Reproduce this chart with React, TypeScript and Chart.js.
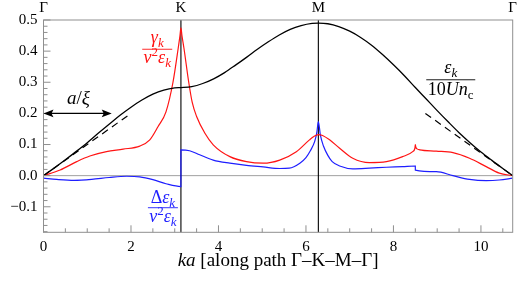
import React, { useEffect, useRef } from 'react';
import { Chart, registerables } from 'chart.js';

Chart.register(...registerables);

// Path Γ–K–M–Γ (positions of symmetry points along ka)
const symmetryX = [0, 3.1416, 6.2832, 10.7261];
const symmetryLabels = ['Γ', 'K', 'M', 'Γ'];
const xTicks = [0, 2, 4, 6, 8, 10];
const yTicks = [-0.1, 0, 0.1, 0.2, 0.3, 0.4, 0.5];

// ε_k / (10 U n_c)
const blackX = [0, 0.25, 0.5, 0.75, 1, 1.25, 1.5, 1.75, 2, 2.25, 2.5, 2.75, 3, 3.1416, 3.39, 3.64, 3.89, 4.14, 4.39, 4.64, 4.89, 5.14, 5.39, 5.64, 5.89, 6.14, 6.2832, 6.5, 6.75, 7, 7.25, 7.5, 7.75, 8, 8.25, 8.5, 8.75, 9, 9.25, 9.5, 9.75, 10, 10.25, 10.5, 10.7261];
const blackY = [0, 0.025, 0.051, 0.078, 0.106, 0.136, 0.165, 0.194, 0.22, 0.243, 0.262, 0.275, 0.282, 0.283, 0.286, 0.296, 0.311, 0.331, 0.355, 0.38, 0.406, 0.43, 0.452, 0.47, 0.482, 0.489, 0.49, 0.488, 0.479, 0.464, 0.444, 0.419, 0.389, 0.356, 0.321, 0.283, 0.246, 0.209, 0.173, 0.138, 0.106, 0.076, 0.049, 0.023, 0];

// linear (sound) asymptotes, dashed
const dashLeftX = [0, 2.0];
const dashLeftY = [0, 0.2];
const dashRightX = [8.73, 10.7261];
const dashRightY = [0.2, 0];

// γ_k / (v² ε_k)
const redX = [0, 0.38, 0.76, 1.06, 1.44, 1.82, 2.2, 2.43, 2.62, 2.8, 2.96, 3.08, 3.12, 3.1416, 3.165, 3.21, 3.32, 3.4, 3.5, 3.69, 3.88, 4.26, 4.64, 5.02, 5.4, 5.78, 6.08, 6.18, 6.2832, 6.38, 6.54, 6.77, 7.07, 7.45, 7.84, 8.21, 8.44, 8.49, 8.5, 8.51, 8.54, 8.6, 8.98, 9.36, 9.74, 10.12, 10.42, 10.7261];
const redY = [0, 0.018, 0.045, 0.063, 0.077, 0.085, 0.095, 0.115, 0.158, 0.205, 0.3, 0.41, 0.45, 0.475, 0.45, 0.41, 0.3, 0.235, 0.19, 0.136, 0.099, 0.061, 0.045, 0.04, 0.05, 0.077, 0.115, 0.126, 0.132, 0.129, 0.115, 0.088, 0.056, 0.042, 0.045, 0.061, 0.077, 0.088, 0.1, 0.092, 0.086, 0.083, 0.079, 0.074, 0.056, 0.029, 0.008, 0];

// Δε_k / (v² ε_k)
const blueX = [0, 0.3, 0.7, 1.1, 1.5, 1.9, 2.2, 2.5, 2.8, 3.1416, 3.1417, 3.34, 3.57, 3.88, 4.26, 4.64, 5.02, 5.4, 5.62, 5.86, 6.0, 6.1, 6.2, 6.25, 6.2832, 6.33, 6.4, 6.5, 6.6, 6.77, 7.07, 7.45, 7.84, 8.21, 8.5, 8.5001, 8.98, 9.36, 9.74, 10.12, 10.42, 10.7261];
const blueY = [-0.008, -0.012, -0.015, -0.012, -0.006, -0.002, -0.004, -0.013, -0.026, -0.035, 0.083, 0.08, 0.067, 0.05, 0.04, 0.033, 0.028, 0.023, 0.024, 0.04, 0.058, 0.08, 0.11, 0.14, 0.174, 0.13, 0.095, 0.065, 0.045, 0.031, 0.022, 0.024, 0.027, 0.029, 0.031, 0.018, 0.013, 0, -0.012, -0.016, -0.014, -0.008];

const SERIF = '"Liberation Serif"';
const RED = 'rgb(255,20,20)';
const BLUE = 'rgb(30,30,255)';
const FRAME = '#8f8f8f';

type Part = { t: string; i?: boolean; sub?: boolean; sup?: boolean };

function fontFor(p: Part, size: number) {
  const s = Math.round(p.sub || p.sup ? size * 0.7 : size);
  return `${p.i ? 'italic ' : ''}${s}px ${SERIF}`;
}
function runWidth(ctx: CanvasRenderingContext2D, parts: Part[], size: number) {
  let w = 0;
  for (const p of parts) {
    ctx.font = fontFor(p, size);
    w += ctx.measureText(p.t).width;
  }
  return w;
}
function drawRun(ctx: CanvasRenderingContext2D, parts: Part[], x: number, y: number, size: number) {
  const w = runWidth(ctx, parts, size);
  let cx = x - w / 2;
  ctx.textAlign = 'left';
  ctx.textBaseline = 'alphabetic';
  for (const p of parts) {
    ctx.font = fontFor(p, size);
    const dy = p.sub ? size * 0.22 : p.sup ? -size * 0.4 : 0;
    ctx.fillText(p.t, cx, y + dy);
    cx += ctx.measureText(p.t).width;
  }
}
function drawFraction(ctx: CanvasRenderingContext2D, cx: number, barY: number, num: Part[], den: Part[], size: number, color: string, barW: number, numOff: number, denOff: number) {
  ctx.fillStyle = color;
  ctx.strokeStyle = color;
  drawRun(ctx, num, cx, barY - numOff, size);
  drawRun(ctx, den, cx, barY + denOff, size);
  ctx.lineWidth = 0.9;
  ctx.beginPath();
  ctx.moveTo(cx - barW / 2, barY);
  ctx.lineTo(cx + barW / 2, barY);
  ctx.stroke();
}

const overlay = {
  id: 'overlay',
  beforeDatasetsDraw(chart: any) {
    const { ctx, chartArea: a, scales } = chart;
    const x = scales.x, y = scales.y;
    ctx.save();
    const y0 = y.getPixelForValue(0);
    ctx.strokeStyle = '#a0a0a0';
    ctx.lineWidth = 1;
    ctx.beginPath();
    ctx.moveTo(a.left, y0);
    ctx.lineTo(a.right, y0);
    ctx.stroke();
    ctx.strokeStyle = '#000';
    ctx.lineWidth = 1.1;
    for (const v of [symmetryX[1], symmetryX[2]]) {
      const px = x.getPixelForValue(v);
      ctx.beginPath();
      ctx.moveTo(px, a.top);
      ctx.lineTo(px, a.bottom);
      ctx.stroke();
    }
    ctx.restore();
  },
  afterDatasetsDraw(chart: any) {
    const { ctx, chartArea: a, scales } = chart;
    const x = scales.x, y = scales.y;
    ctx.save();
    ctx.strokeStyle = FRAME;
    ctx.lineWidth = 1;
    ctx.strokeRect(a.left, a.top, a.right - a.left, a.bottom - a.top);
    for (let i = 0; i <= 21; i++) {
      const px = x.getPixelForValue(i * 0.5);
      const len = i % 4 === 0 ? 7 : 4;
      ctx.beginPath();
      ctx.moveTo(px, a.bottom);
      ctx.lineTo(px, a.bottom - len);
      ctx.stroke();
    }
    for (let i = -9; i <= 25; i++) {
      const py = y.getPixelForValue(i * 0.02);
      const len = i % 5 === 0 ? 7 : 4;
      ctx.beginPath();
      ctx.moveTo(a.left, py);
      ctx.lineTo(a.left + len, py);
      ctx.stroke();
    }
    ctx.fillStyle = '#000';
    symmetryX.forEach((v, k) => {
      drawRun(ctx, [{ t: symmetryLabels[k] }], x.getPixelForValue(v), a.top - 8, 15);
    });
    drawRun(ctx, [{ t: 'ka', i: true }, { t: ' [along path Γ–K–M–Γ]' }], (a.left + a.right) / 2, 266, 19);

    // a/ξ arrow
    const ay = y.getPixelForValue(0.2);
    const ax0 = x.getPixelForValue(0);
    const ax1 = x.getPixelForValue(1.56);
    ctx.strokeStyle = '#000';
    ctx.fillStyle = '#000';
    ctx.lineWidth = 1.2;
    ctx.beginPath();
    ctx.moveTo(ax0 + 5, ay);
    ctx.lineTo(ax1 - 5, ay);
    ctx.stroke();
    const head = (tip: number, dir: number) => {
      ctx.beginPath();
      ctx.moveTo(tip, ay);
      ctx.lineTo(tip + dir * 10, ay - 3.8);
      ctx.lineTo(tip + dir * 8, ay);
      ctx.lineTo(tip + dir * 10, ay + 3.8);
      ctx.closePath();
      ctx.fill();
    };
    head(ax0, 1);
    head(ax1, -1);
    drawRun(ctx, [{ t: 'a', i: true }, { t: '/' }, { t: 'ξ', i: true }], x.getPixelForValue(0.8), ay - 9, 19);

    drawFraction(ctx, x.getPixelForValue(2.6), y.getPixelForValue(0.406),
      [{ t: 'γ', i: true }, { t: 'k', i: true, sub: true }],
      [{ t: 'v', i: true }, { t: '2', sup: true }, { t: 'ε', i: true }, { t: 'k', i: true, sub: true }],
      18, RED, 30, 6, 14);
    drawFraction(ctx, x.getPixelForValue(2.73), y.getPixelForValue(-0.103),
      [{ t: 'Δ' }, { t: 'ε', i: true }, { t: 'k', i: true, sub: true }],
      [{ t: 'v', i: true }, { t: '2', sup: true }, { t: 'ε', i: true }, { t: 'k', i: true, sub: true }],
      18, BLUE, 30, 5, 14);
    drawFraction(ctx, x.getPixelForValue(9.31), y.getPixelForValue(0.308),
      [{ t: 'ε', i: true }, { t: 'k', i: true, sub: true }],
      [{ t: '10' }, { t: 'U', i: true }, { t: 'n', i: true }, { t: 'c', sub: true }],
      18, '#000', 49, 7, 15);
    ctx.restore();
  },
};

function pts(xs: number[], ys: number[]) {
  return xs.map((v, i) => ({ x: v, y: ys[i] }));
}

export default function App() {
  const ref = useRef<HTMLCanvasElement | null>(null);
  useEffect(() => {
    if (!ref.current) return;
    const chart = new Chart(ref.current, {
      type: 'line',
      data: {
        datasets: [
          { data: pts(dashLeftX, dashLeftY), borderColor: '#000', borderWidth: 1.2, borderDash: [7, 5], pointRadius: 0, tension: 0 },
          { data: pts(dashRightX, dashRightY), borderColor: '#000', borderWidth: 1.2, borderDash: [7, 5], pointRadius: 0, tension: 0 },
          { data: pts(blackX, blackY), borderColor: '#000', borderWidth: 1.3, pointRadius: 0, cubicInterpolationMode: 'monotone' },
          { data: pts(redX, redY), borderColor: RED, borderWidth: 1.2, pointRadius: 0, cubicInterpolationMode: 'monotone' },
          { data: pts(blueX, blueY), borderColor: BLUE, borderWidth: 1.2, pointRadius: 0, cubicInterpolationMode: 'monotone' },
        ] as any,
      },
      options: {
        animation: false,
        responsive: false,
        devicePixelRatio: 1,
        layout: { padding: { top: 20, right: 6.3, left: 0, bottom: 0 } },
        plugins: { legend: { display: false }, tooltip: { enabled: false } },
        scales: {
          x: {
            type: 'linear',
            min: 0,
            max: symmetryX[3],
            grid: { display: false, drawTicks: false },
            border: { display: false },
            afterBuildTicks: (s: any) => { s.ticks = xTicks.map((v) => ({ value: v })); },
            afterFit: (s: any) => { s.height = 52.7; },
            ticks: { color: '#000', font: { family: SERIF, size: 15 }, padding: 6, maxRotation: 0, callback: (v: any) => String(v) },
          },
          y: {
            type: 'linear',
            min: -0.182,
            max: 0.5,
            grid: { display: false, drawTicks: false },
            border: { display: false },
            afterBuildTicks: (s: any) => { s.ticks = yTicks.map((v) => ({ value: v })); },
            afterFit: (s: any) => { s.width = 43.5; },
            ticks: {
              color: '#000',
              font: { family: SERIF, size: 15 },
              padding: 6,
              callback: (v: any) => (Number(v) < 0 ? '−' + Math.abs(Number(v)).toFixed(1) : Number(v).toFixed(1)),
            },
          },
        },
      } as any,
      plugins: [overlay],
    });
    return () => chart.destroy();
  }, []);
  return (
    <div style={{ position: 'fixed', left: 0, top: 0, width: 519, height: 285, background: '#fff' }}>
      <canvas ref={ref} width={519} height={285} style={{ display: 'block' }} />
    </div>
  );
}
